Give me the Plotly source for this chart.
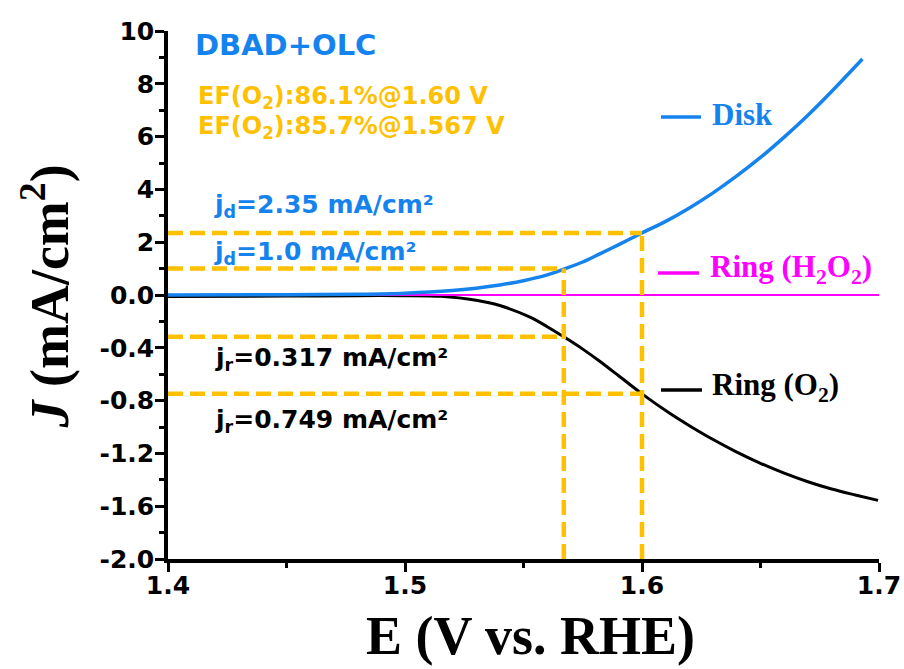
import plotly.graph_objects as go

# ---------------- data ----------------
disk_E = [1.40, 1.45, 1.48, 1.50, 1.52, 1.53, 1.54, 1.55, 1.56, 1.567, 1.575, 1.582, 1.59,
          1.60, 1.61, 1.62, 1.63, 1.64, 1.65, 1.66, 1.67, 1.68, 1.693]
disk_J = [0.00, 0.01, 0.03, 0.07, 0.17, 0.26, 0.38, 0.54, 0.76, 0.98, 1.25, 1.55, 1.90,
          2.35, 2.79, 3.30, 3.87, 4.51, 5.21, 5.98, 6.81, 7.71, 8.94]

ringO2_E = [1.40, 1.45, 1.48, 1.50, 1.515, 1.53, 1.54, 1.553, 1.56, 1.567, 1.575, 1.582, 1.59,
            1.60, 1.612, 1.62, 1.63, 1.64, 1.65, 1.66, 1.67, 1.68, 1.69, 1.6996]
ringO2_J = [-0.012, -0.008, -0.005, -0.005, -0.01, -0.04, -0.08, -0.17, -0.24, -0.317, -0.41,
            -0.50, -0.61, -0.749, -0.90, -0.99, -1.095, -1.19, -1.275, -1.35, -1.415, -1.47,
            -1.515, -1.556]

ringH2O2_E = [1.40, 1.70]
ringH2O2_J = [0.0, 0.0]

# marker values (potential, current)
E_marks = [1.567, 1.60]
jd_marks = [1.0, 2.35]
jr_marks = [-0.317, -0.749]

x_tickvals = [1.4, 1.5, 1.6, 1.7]
x_ticktext = ["1.4", "1.5", "1.6", "1.7"]
x_minor = [1.45, 1.55, 1.65]
yl_tickvals = [0.0, -0.4, -0.8, -1.2, -1.6, -2.0]
yl_ticktext = ["0.0", "-0.4", "-0.8", "-1.2", "-1.6", "-2.0"]
yl_minor = [-0.2, -0.6, -1.0, -1.4, -1.8]
yu_tickvals = [2, 4, 6, 8, 10]
yu_ticktext = ["2", "4", "6", "8", "10"]
yu_minor = [1, 3, 5, 7, 9]

# ---------------- style ----------------
BLUE = "#1583EE"
AMBER = "#FFC000"
MAGENTA = "#FF00FF"
SANS = "DejaVu Sans"
SERIF = "Liberation Serif"

fig = go.Figure()
fig.add_trace(go.Scatter(x=ringO2_E, y=ringO2_J, mode="lines", xaxis="x", yaxis="y",
                         line=dict(color="black", width=3, shape="spline", smoothing=0.8),
                         showlegend=False))
fig.add_trace(go.Scatter(x=ringH2O2_E, y=ringH2O2_J, mode="lines", xaxis="x", yaxis="y",
                         line=dict(color=MAGENTA, width=2.2), showlegend=False))
fig.add_trace(go.Scatter(x=disk_E, y=disk_J, mode="lines", xaxis="x", yaxis="y2",
                         line=dict(color=BLUE, width=3.5, shape="spline", smoothing=0.8),
                         showlegend=False))

dash = "15px,7px"
shapes = []
for E, jd in zip(E_marks, jd_marks):
    shapes.append(dict(type="line", xref="x", yref="y2", x0=1.4, x1=E, y0=jd, y1=jd,
                       line=dict(color=AMBER, width=4.5, dash=dash)))
    shapes.append(dict(type="line", xref="x", yref="y2", x0=E, x1=E, y0=0, y1=jd,
                       line=dict(color=AMBER, width=4.5, dash=dash)))
for E, jr in zip(E_marks, jr_marks):
    shapes.append(dict(type="line", xref="x", yref="y", x0=1.4, x1=E, y0=jr, y1=jr,
                       line=dict(color=AMBER, width=4.5, dash=dash)))
    shapes.append(dict(type="line", xref="x", yref="y", x0=E, x1=E, y0=-2.0, y1=0,
                       line=dict(color=AMBER, width=4.5, dash=dash)))

# legend-like line keys
for (x0, x1, y, c) in [(0.6934, 0.7496, 0.8371, BLUE), (0.6892, 0.7468, 0.5417, MAGENTA),
                       (0.6934, 0.751, 0.3201, "black")]:
    shapes.append(dict(type="line", xref="paper", yref="paper", x0=x0, x1=x1, y0=y, y1=y,
                       line=dict(color=c, width=3.5)))

ann = []
def A(text, x, y, color, size, family=SANS, xanchor="left", **kw):
    ann.append(dict(text=text, x=x, y=y, xref="paper", yref="paper", xanchor=xanchor,
                    yanchor="middle", showarrow=False,
                    font=dict(family=family, size=size, color=color), **kw))

A("<b>DBAD+OLC</b>", 0.0352, 0.9735, BLUE, 29)
A("<b>EF(O<sub>2</sub>):86.1%@1.60 V</b>", 0.0395, 0.874, AMBER, 24)
A("<b>EF(O<sub>2</sub>):85.7%@1.567 V</b>", 0.0395, 0.817, AMBER, 24)
A("<b>j<sub>d</sub>=2.35 mA/cm²</b>", 0.0619, 0.668, BLUE, 25)
A("<b>j<sub>d</sub>=1.0 mA/cm²</b>", 0.0619, 0.579, BLUE, 25)
A("<b>j<sub>r</sub>=0.317 mA/cm²</b>", 0.0633, 0.378, "black", 25)
A("<b>j<sub>r</sub>=0.749 mA/cm²</b>", 0.0633, 0.261, "black", 25)
A("<b>Disk</b>", 0.762, 0.841, BLUE, 31, SERIF)
A("<b>Ring (H<sub>2</sub>O<sub>2</sub>)</b>", 0.759, 0.549, MAGENTA, 31, SERIF)
A("<b>Ring (O<sub>2</sub>)</b>", 0.762, 0.3258, "black", 31, SERIF)
A("<b><i>J</i> (mA/cm<sup>2</sup>)</b>", -0.1716, 0.497, "black", 54, SERIF,
  xanchor="center", textangle=-90)
A("<b>E (V vs. RHE)</b>", 0.5105, -0.145, "black", 54, SERIF, xanchor="center")

tickfont = dict(family=SANS, size=25, color="black", weight="bold")
axis_common = dict(showline=True, linecolor="black", linewidth=3.5, ticks="outside",
                   ticklen=9, tickwidth=3, tickcolor="black", showgrid=False, zeroline=False,
                   tickfont=tickfont, automargin=False)
minor_common = dict(ticks="outside", ticklen=5, tickwidth=3, tickcolor="black")

fig.update_layout(
    width=904, height=669,
    margin=dict(l=168, r=25, t=31, b=110),
    paper_bgcolor="white", plot_bgcolor="rgba(0,0,0,0)",
    showlegend=False,
    xaxis=dict(range=[1.4, 1.7], tickvals=x_tickvals, ticktext=x_ticktext, anchor="y",
               minor=dict(tickvals=x_minor, **minor_common), ticklabelstandoff=-8,
               **axis_common),
    yaxis=dict(domain=[0, 0.51], range=[-2.0, 0.04], tickvals=yl_tickvals,
               ticktext=yl_ticktext, anchor="x", ticklabelstandoff=-4,
               minor=dict(tickvals=yl_minor, **minor_common),
               **axis_common),
    yaxis2=dict(domain=[0.49, 1], range=[-0.2, 10], tickvals=yu_tickvals,
                ticktext=yu_ticktext, anchor="x", ticklabelstandoff=-4,
                minor=dict(tickvals=yu_minor, **minor_common),
                **axis_common),
    shapes=shapes,
    annotations=ann,
)

fig.write_html("out.html")
